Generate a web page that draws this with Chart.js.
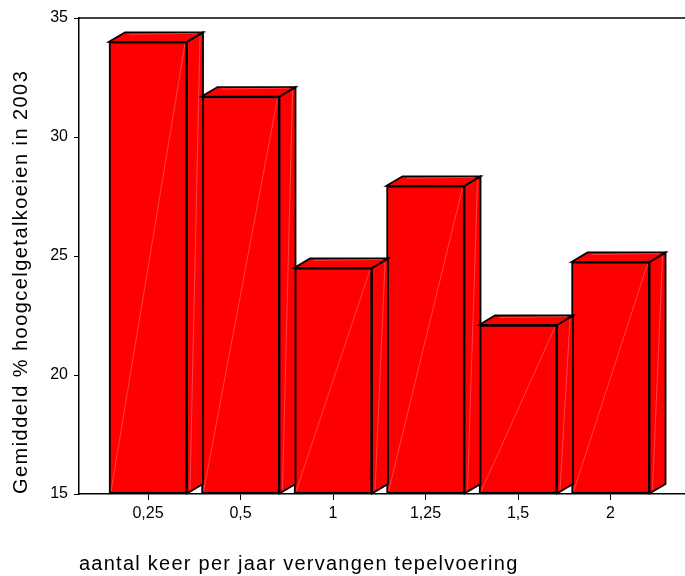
<!DOCTYPE html>
<html>
<head>
<meta charset="utf-8">
<script src="https://cdn.jsdelivr.net/npm/chart.js@4/dist/chart.umd.min.js"></script>
<style>
  html, body { margin: 0; padding: 0; background: #fff; }
  #wrap { width: 685px; height: 576px; }
</style>
</head>
<body>
<div id="wrap"><canvas id="chart" width="685" height="576"></canvas></div>
<script>
// Gemiddeld % hoogcelgetalkoeien per aantal keer vervangen tepelvoering
const categories = ['0,25', '0,5', '1', '1,25', '1,5', '2'];
const values = [34.0, 31.7, 24.5, 27.95, 22.1, 24.75];
const yTicks = [15, 20, 25, 30, 35];

const FONT = "'Liberation Sans', Arial, Helvetica, sans-serif";
const DX = 16, DY = 9.5; // diepte van de 3D-balken

// asstitels iets ruimer gespatieerd, zoals in het origineel
const spacedTitle = (spacing) => (s) => {
    if (s._spaced) return;
    s._spaced = true;
    const orig = s.drawTitle.bind(s);
    s.drawTitle = function () {
        const ctx = this.ctx;
        const prev = ctx.letterSpacing;
        ctx.letterSpacing = spacing;
        orig();
        ctx.letterSpacing = prev || '0px';
    };
};

// zijvlak + bovenvlak tekenen bovenop de Chart.js-balken
const box3d = {
    id: 'box3d',
    afterDatasetsDraw(chart) {
        const ctx = chart.ctx;
        const meta = chart.getDatasetMeta(0);
        ctx.save();
        ctx.lineJoin = 'miter';
        meta.data.forEach((bar) => {
            const p = bar.getProps(['x', 'y', 'base', 'width'], true);
            const l = p.x - p.width / 2, r = p.x + p.width / 2, t = p.y, b = p.base;
            // zijvlak
            ctx.beginPath();
            ctx.moveTo(r, t);
            ctx.lineTo(r + DX, t - DY);
            ctx.lineTo(r + DX, b - DY);
            ctx.lineTo(r, b);
            ctx.closePath();
            ctx.fillStyle = '#ff0000';
            ctx.fill();
            ctx.lineWidth = 1.8;
            ctx.strokeStyle = '#000';
            ctx.stroke();
            // bovenvlak
            ctx.beginPath();
            ctx.moveTo(l, t);
            ctx.lineTo(l + DX, t - DY);
            ctx.lineTo(r + DX, t - DY);
            ctx.lineTo(r, t);
            ctx.closePath();
            ctx.fill();
            ctx.stroke();
            // lichte glanslijntjes
            ctx.lineWidth = 0.7;
            ctx.strokeStyle = 'rgba(255,170,170,0.55)';
            ctx.beginPath();
            ctx.moveTo(l + 2, b - 2);
            ctx.lineTo(r - 2, t + 2);
            ctx.moveTo(r + DX - 3, t - DY + 4);
            ctx.lineTo(r + 3, b - 4);
            ctx.moveTo(l + DX + 4, t - DY + 2);
            ctx.lineTo(r + DX - 6, t - DY + 1);
            ctx.stroke();
        });
        ctx.restore();
    },
    afterDraw(chart) {
        // bovenrand van het plotvlak
        const { ctx, chartArea } = chart;
        ctx.save();
        ctx.strokeStyle = '#000';
        ctx.lineWidth = 1.5;
        ctx.beginPath();
        ctx.moveTo(chartArea.left, chartArea.top);
        ctx.lineTo(chartArea.right, chartArea.top);
        ctx.stroke();
        ctx.restore();
    },
};

new Chart(document.getElementById('chart'), {
    type: 'bar',
    data: {
        datasets: [{
            data: values.map((v, i) => ({ x: i, y: v })),
            base: 15,
            backgroundColor: '#ff0000',
            borderColor: '#000',
            borderWidth: 2,
            borderSkipped: false,
            barThickness: 78,
        }],
    },
    plugins: [box3d],
    options: {
        responsive: false,
        animation: false,
        devicePixelRatio: 1,
        layout: { padding: { top: 18, right: 0, left: 0, bottom: 0 } },
        plugins: { legend: { display: false }, tooltip: { enabled: false } },
        scales: {
            x: {
                type: 'linear',
                offset: false,
                min: -0.746,
                max: 5.805,
                afterBuildTicks: (s) => { s.ticks = categories.map((_, i) => ({ value: i })); },
                afterFit: (s) => { s.height = 82; spacedTitle('1.25px')(s); },
                ticks: {
                    callback: (v) => categories[v],
                    color: '#000',
                    font: { family: FONT, size: 16 },
                    padding: 4,
                    maxRotation: 0,
                },
                grid: { display: true, offset: false, drawOnChartArea: false, drawTicks: true, tickLength: 6, color: '#000', lineWidth: 1 },
                border: { display: true, color: '#000', width: 1.5 },
                title: {
                    display: true,
                    text: 'aantal keer per jaar vervangen tepelvoering',
                    align: 'start',
                    color: '#000',
                    font: { family: FONT, size: 20 },
                    padding: { top: 0, bottom: 0 },
                },
            },
            y: {
                min: 15,
                max: 35,
                afterBuildTicks: (s) => { s.ticks = yTicks.map((v) => ({ value: v })); },
                afterFit: (s) => { s.width = 79; spacedTitle('1.45px')(s); },
                ticks: {
                    color: '#000',
                    font: { family: FONT, size: 16 },
                    padding: 6,
                },
                grid: { display: true, drawOnChartArea: false, drawTicks: true, tickLength: 5, color: '#000', lineWidth: 1 },
                border: { display: true, color: '#000', width: 1.5 },
                title: {
                    display: true,
                    text: 'Gemiddeld % hoogcelgetalkoeien in 2003',
                    align: 'start',
                    color: '#000',
                    font: { family: FONT, size: 20 },
                    padding: { top: 9, bottom: 0 },
                },
            },
        },
    },
});
</script>
</body>
</html>
